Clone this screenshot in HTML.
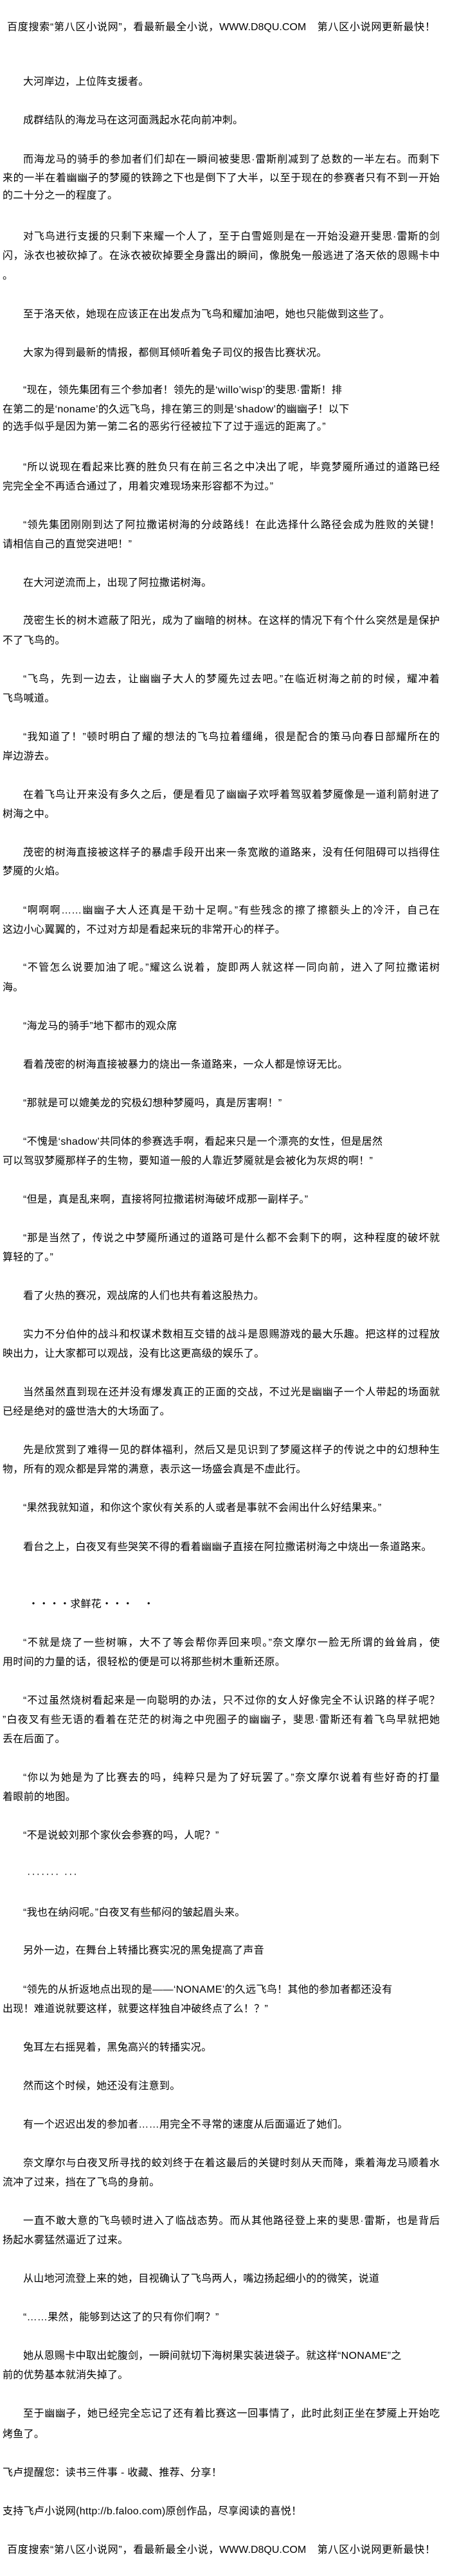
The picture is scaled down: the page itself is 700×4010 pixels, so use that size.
<!DOCTYPE html>
<html><head><meta charset="utf-8">
<style>
html,body{margin:0;padding:0;background:#fff;}
body{position:relative;width:700px;height:4010px;overflow:hidden;font-family:"Liberation Sans","Noto Sans CJK SC",sans-serif;font-size:16px;color:#000;}
.l{position:absolute;height:30px;line-height:30px;white-space:nowrap;letter-spacing:0.3px;}
.f{right:16px;text-align:justify;text-align-last:justify;letter-spacing:0;}
.h{left:11px;right:23px;text-align:justify;text-align-last:justify;letter-spacing:0;}
</style></head><body>
<div class="l h" style="top:28px">百度搜索“第八区小说网”，看最新最全小说，WWW.D8QU.COM　第八区小说网更新最快！</div>
<div class="l" style="top:113px;left:36px">大河岸边，上位阵支援者。</div>
<div class="l" style="top:173px;left:36px">成群结队的海龙马在这河面溅起水花向前冲刺。</div>
<div class="l f" style="top:234px;left:36px">而海龙马的骑手的参加者们们却在一瞬间被斐思·雷斯削减到了总数的一半左右。而剩下</div>
<div class="l f" style="top:263px;left:4px">来的一半在着幽幽子的梦魇的铁蹄之下也是倒下了大半，以至于现在的参赛者只有不到一开始</div>
<div class="l" style="top:290px;left:4px">的二十分之一的程度了。</div>
<div class="l f" style="top:354px;left:36px">对飞鸟进行支援的只剩下来耀一个人了，至于白雪姬则是在一开始没避开斐思·雷斯的剑</div>
<div class="l f" style="top:384px;left:4px">闪，泳衣也被砍掉了。在泳衣被砍掉要全身露出的瞬间，像脱兔一般逃进了洛天依的恩赐卡中</div>
<div class="l" style="top:415px;left:4px">。</div>
<div class="l" style="top:475px;left:36px">至于洛天依，她现在应该正在出发点为飞鸟和耀加油吧，她也只能做到这些了。</div>
<div class="l" style="top:535px;left:36px">大家为得到最新的情报，都侧耳倾听着兔子司仪的报告比赛状况。</div>
<div class="l" style="top:593px;left:36px">“现在，领先集团有三个参加者！领先的是‘willo’wisp’的斐思·雷斯！排</div>
<div class="l" style="top:623px;left:4px">在第二的是‘noname’的久远飞鸟，排在第三的则是‘shadow’的幽幽子！以下</div>
<div class="l" style="top:650px;left:4px">的选手似乎是因为第一第二名的恶劣行径被拉下了过于遥远的距离了。”</div>
<div class="l f" style="top:713px;left:36px">“所以说现在看起来比赛的胜负只有在前三名之中决出了呢，毕竟梦魇所通过的道路已经</div>
<div class="l" style="top:743px;left:4px">完完全全不再适合通过了，用着灾难现场来形容都不为过。”</div>
<div class="l f" style="top:803px;left:36px">“领先集团刚刚到达了阿拉撒诺树海的分歧路线！在此选择什么路径会成为胜败的关键！</div>
<div class="l" style="top:833px;left:4px">请相信自己的直觉突进吧！”</div>
<div class="l" style="top:893px;left:36px">在大河逆流而上，出现了阿拉撒诺树海。</div>
<div class="l f" style="top:952px;left:36px">茂密生长的树木遮蔽了阳光，成为了幽暗的树林。在这样的情况下有个什么突然是是保护</div>
<div class="l" style="top:983px;left:4px">不了飞鸟的。</div>
<div class="l f" style="top:1043px;left:36px">“飞鸟，先到一边去，让幽幽子大人的梦魇先过去吧。”在临近树海之前的时候，耀冲着</div>
<div class="l" style="top:1073px;left:4px">飞鸟喊道。</div>
<div class="l f" style="top:1133px;left:36px">“我知道了！”顿时明白了耀的想法的飞鸟拉着缰绳，很是配合的策马向春日部耀所在的</div>
<div class="l" style="top:1163px;left:4px">岸边游去。</div>
<div class="l f" style="top:1223px;left:36px">在着飞鸟让开来没有多久之后，便是看见了幽幽子欢呼着驾驭着梦魇像是一道利箭射进了</div>
<div class="l" style="top:1253px;left:4px">树海之中。</div>
<div class="l f" style="top:1313px;left:36px">茂密的树海直接被这样子的暴虐手段开出来一条宽敞的道路来，没有任何阻碍可以挡得住</div>
<div class="l" style="top:1342px;left:4px">梦魇的火焰。</div>
<div class="l f" style="top:1403px;left:36px">“啊啊啊……幽幽子大人还真是干劲十足啊。”有些残念的擦了擦额头上的冷汗，自己在</div>
<div class="l" style="top:1433px;left:4px">这边小心翼翼的，不过对方却是看起来玩的非常开心的样子。</div>
<div class="l f" style="top:1492px;left:36px">“不管怎么说要加油了呢。”耀这么说着，旋即两人就这样一同向前，进入了阿拉撒诺树</div>
<div class="l" style="top:1523px;left:4px">海。</div>
<div class="l" style="top:1583px;left:36px">“海龙马的骑手”地下都市的观众席</div>
<div class="l" style="top:1643px;left:36px">看着茂密的树海直接被暴力的烧出一条道路来，一众人都是惊讶无比。</div>
<div class="l" style="top:1703px;left:36px">“那就是可以媲美龙的究极幻想种梦魇吗，真是厉害啊！”</div>
<div class="l" style="top:1763px;left:36px">“不愧是‘shadow’共同体的参赛选手啊，看起来只是一个漂亮的女性，但是居然</div>
<div class="l" style="top:1793px;left:4px">可以驾驭梦魇那样子的生物，要知道一般的人靠近梦魇就是会被化为灰烬的啊！”</div>
<div class="l" style="top:1853px;left:36px">“但是，真是乱来啊，直接将阿拉撒诺树海破坏成那一副样子。”</div>
<div class="l f" style="top:1913px;left:36px">“那是当然了，传说之中梦魇所通过的道路可是什么都不会剩下的啊，这种程度的破坏就</div>
<div class="l" style="top:1943px;left:4px">算轻的了。”</div>
<div class="l" style="top:2003px;left:36px">看了火热的赛况，观战席的人们也共有着这股热力。</div>
<div class="l f" style="top:2063px;left:36px">实力不分伯仲的战斗和权谋术数相互交错的战斗是恩赐游戏的最大乐趣。把这样的过程放</div>
<div class="l" style="top:2093px;left:4px">映出力，让大家都可以观战，没有比这更高级的娱乐了。</div>
<div class="l f" style="top:2153px;left:36px">当然虽然直到现在还并没有爆发真正的正面的交战，不过光是幽幽子一个人带起的场面就</div>
<div class="l" style="top:2183px;left:4px">已经是绝对的盛世浩大的大场面了。</div>
<div class="l f" style="top:2243px;left:36px">先是欣赏到了难得一见的群体福利，然后又是见识到了梦魇这样子的传说之中的幻想种生</div>
<div class="l" style="top:2273px;left:4px">物，所有的观众都是异常的满意，表示这一场盛会真是不虚此行。</div>
<div class="l" style="top:2333px;left:36px">“果然我就知道，和你这个家伙有关系的人或者是事就不会闹出什么好结果来。”</div>
<div class="l" style="top:2394px;left:36px">看台之上，白夜叉有些哭笑不得的看着幽幽子直接在阿拉撒诺树海之中烧出一条道路来。</div>
<div class="l" style="top:2483px;left:44px">・・・・求鲜花・・・　・</div>
<div class="l f" style="top:2543px;left:36px">“不就是烧了一些树嘛，大不了等会帮你弄回来呗。”奈文摩尔一脸无所谓的耸耸肩，使</div>
<div class="l" style="top:2573px;left:4px">用时间的力量的话，很轻松的便是可以将那些树木重新还原。</div>
<div class="l f" style="top:2633px;left:36px">“不过虽然烧树看起来是一向聪明的办法，只不过你的女人好像完全不认识路的样子呢？</div>
<div class="l f" style="top:2663px;left:4px">”白夜叉有些无语的看着在茫茫的树海之中兜圈子的幽幽子，斐思·雷斯还有着飞鸟早就把她</div>
<div class="l" style="top:2693px;left:4px">丢在后面了。</div>
<div class="l f" style="top:2753px;left:36px">“你以为她是为了比赛去的吗，纯粹只是为了好玩罢了。”奈文摩尔说着有些好奇的打量</div>
<div class="l" style="top:2783px;left:4px">着眼前的地图。</div>
<div class="l" style="top:2843px;left:36px">“不是说蛟刘那个家伙会参赛的吗，人呢？”</div>
<div class="l" style="top:2903px;left:42px;letter-spacing:2px">······· ···</div>
<div class="l" style="top:2963px;left:36px">“我也在纳闷呢。”白夜叉有些郁闷的皱起眉头来。</div>
<div class="l" style="top:3022px;left:36px">另外一边，在舞台上转播比赛实况的黑兔提高了声音</div>
<div class="l" style="top:3083px;left:36px">“领先的从折返地点出现的是——‘NONAME’的久远飞鸟！其他的参加者都还没有</div>
<div class="l" style="top:3113px;left:4px">出现！难道说就要这样，就要这样独自冲破终点了么！？”</div>
<div class="l" style="top:3173px;left:36px">兔耳左右摇晃着，黑兔高兴的转播实况。</div>
<div class="l" style="top:3233px;left:36px">然而这个时候，她还没有注意到。</div>
<div class="l" style="top:3293px;left:36px">有一个迟迟出发的参加者……用完全不寻常的速度从后面逼近了她们。</div>
<div class="l f" style="top:3353px;left:36px">奈文摩尔与白夜叉所寻找的蛟刘终于在着这最后的关键时刻从天而降，乘着海龙马顺着水</div>
<div class="l" style="top:3383px;left:4px">流冲了过来，挡在了飞鸟的身前。</div>
<div class="l f" style="top:3443px;left:36px">一直不敢大意的飞鸟顿时进入了临战态势。而从其他路径登上来的斐思·雷斯，也是背后</div>
<div class="l" style="top:3473px;left:4px">扬起水雾猛然逼近了过来。</div>
<div class="l" style="top:3533px;left:36px">从山地河流登上来的她，目视确认了飞鸟两人，嘴边扬起细小的的微笑，说道</div>
<div class="l" style="top:3593px;left:36px">“……果然，能够到达这了的只有你们啊？”</div>
<div class="l" style="top:3653px;left:36px">她从恩赐卡中取出蛇腹剑，一瞬间就切下海树果实装进袋子。就这样“NONAME”之</div>
<div class="l" style="top:3683px;left:4px">前的优势基本就消失掉了。</div>
<div class="l f" style="top:3743px;left:36px">至于幽幽子，她已经完全忘记了还有着比赛这一回事情了，此时此刻正坐在梦魇上开始吃</div>
<div class="l" style="top:3775px;left:4px">烤鱼了。</div>
<div class="l" style="top:3835px;left:4px">飞卢提醒您：读书三件事 - 收藏、推荐、分享！</div>
<div class="l" style="top:3895px;left:4px">支持飞卢小说网(http://b.faloo.com)原创作品，尽享阅读的喜悦！</div>
<div class="l h" style="top:3955px">百度搜索“第八区小说网”，看最新最全小说，WWW.D8QU.COM　第八区小说网更新最快！</div>
</body></html>
